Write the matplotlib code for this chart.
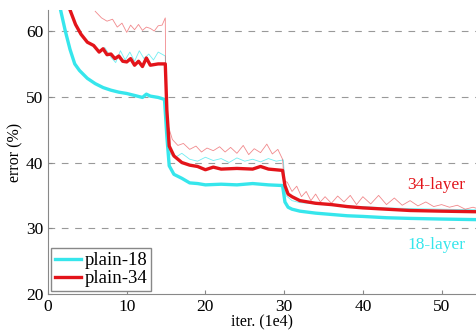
import matplotlib
matplotlib.use("Agg")
import matplotlib.pyplot as plt

plt.rcParams['font.family'] = ['Liberation Serif', 'DejaVu Serif']

CYAN = '#36e6ec'
RED = '#e3141a'

# thick curves (validation error)
val18_x = [1.6, 2.2, 2.8, 3.4, 4.0, 5.0, 6.0, 7.0, 8.0, 9.0, 10.0, 11.0, 12.0, 12.5, 13.0, 14.0, 14.8, 15.1, 15.4,
           16.0, 17.0, 18.0, 19.0, 20.0, 22.0, 24.0, 26.0, 28.0, 29.8, 30.1, 30.5, 31.0, 32.0, 34.0, 36.0, 38.0,
           40.0, 43.0, 46.0, 50.0, 55.0]
val18_y = [63.2, 60.0, 57.2, 55.0, 54.0, 52.8, 52.0, 51.4, 51.0, 50.7, 50.5, 50.2, 49.9, 50.4, 50.1, 49.9, 49.6, 44.0,
           39.5, 38.2, 37.6, 36.9, 36.8, 36.6, 36.7, 36.6, 36.8, 36.6, 36.5, 34.0, 33.2, 32.9, 32.6, 32.3, 32.1, 31.9,
           31.8, 31.6, 31.5, 31.4, 31.3]

val34_x = [2.8, 3.5, 4.2, 5.0, 5.8, 6.5, 7.0, 7.5, 8.0, 8.5, 9.0, 9.5, 10.0, 10.5, 11.0, 11.5, 12.0, 12.5, 13.0,
           14.0, 14.9, 15.1, 15.4, 16.0, 17.0, 18.0, 19.0, 20.0, 21.0, 22.0, 24.0, 26.0, 27.0, 28.0, 29.8, 30.1,
           30.5, 31.0, 32.0, 34.0, 36.0, 38.0, 40.0, 43.0, 46.0, 50.0, 55.0]
val34_y = [63.2, 61.0, 59.5, 58.3, 57.8, 56.8, 57.3, 56.4, 56.5, 55.8, 56.2, 55.4, 55.3, 55.8, 54.8, 55.4, 54.6, 55.9,
           54.8, 55.0, 55.0, 48.0, 42.5, 41.0, 40.0, 39.6, 39.4, 38.9, 39.3, 39.0, 39.1, 39.0, 39.4, 39.0, 38.8, 36.5,
           35.2, 34.8, 34.2, 33.8, 33.6, 33.3, 33.1, 32.9, 32.7, 32.6, 32.5]

# thin curves (training error)
tr18_x = [7.2, 8.0, 8.6, 9.2, 9.8, 10.4, 11.0, 11.6, 12.2, 12.8, 13.4, 14.0, 14.9, 15.1, 15.6, 16.2, 17.0, 18.0,
          19.0, 20.0, 21.0, 22.0, 23.0, 24.0, 25.0, 26.0, 27.0, 28.0, 29.0, 29.9, 30.2, 31.0, 32.0, 34.0, 36.0,
          38.0, 40.0, 43.0, 46.0, 50.0, 55.0]
tr18_y = [57.5, 56.0, 55.2, 57.0, 55.6, 56.8, 55.4, 57.0, 55.8, 56.5, 55.6, 56.8, 56.2, 44.0, 41.2, 40.8, 41.4, 40.5,
          40.2, 40.8, 40.3, 40.6, 40.0, 40.7, 40.2, 40.5, 40.1, 40.6, 40.2, 40.4, 35.0, 34.2, 33.9, 33.7, 33.5,
          33.4, 33.3, 33.1, 33.0, 32.9, 32.8]

tr34_x = [6.0, 6.8, 7.5, 8.2, 8.8, 9.4, 10.0, 10.5, 11.0, 11.5, 12.0, 12.5, 13.0, 13.5, 14.0, 14.5, 14.9, 15.0,
          15.3, 15.8, 16.5, 17.2, 18.0, 18.8, 19.5, 20.2, 21.0, 21.8, 22.5, 23.2, 24.0, 24.8, 25.5, 26.2, 27.0,
          27.8, 28.5, 29.2, 29.8, 30.0, 30.4, 31.0, 31.6, 32.2, 32.8, 33.4, 34.0, 34.6, 35.2, 36.0, 36.8, 37.6,
          38.4, 39.2, 40.0, 41.0, 42.0, 43.0, 44.0, 45.0, 46.0, 47.0, 48.0, 49.0, 50.0, 51.0, 52.0, 53.0, 54.0,
          55.0]
tr34_y = [63.0, 62.0, 61.5, 61.8, 60.6, 61.2, 59.8, 60.9, 60.2, 61.0, 60.1, 60.6, 60.4, 60.0, 60.8, 60.9, 62.0, 46.0,
          45.5, 43.5, 42.6, 42.9, 42.0, 42.5, 41.6, 42.2, 41.8, 42.4, 41.6, 42.3, 41.4, 42.6, 41.2, 42.1, 41.5,
          42.8, 41.3, 42.0, 40.5, 37.2, 37.0, 35.6, 36.4, 34.8, 35.6, 34.2, 35.2, 34.0, 34.8, 33.8, 34.9, 34.0,
          35.0, 33.6, 34.8, 33.7, 35.0, 33.6, 34.6, 33.5, 34.2, 33.4, 34.0, 33.3, 33.6, 33.2, 33.5, 32.9, 33.2,
          32.8]

fig = plt.figure(figsize=(4.77, 3.31), dpi=100)
ax = fig.add_axes([0.1006, 0.1118, 0.8994, 0.858])

ax.plot(tr18_x, tr18_y, color=CYAN, lw=0.6, alpha=0.7)
ax.plot(tr34_x, tr34_y, color=RED, lw=0.6, alpha=0.5)
ax.plot(val18_x, val18_y, color=CYAN, lw=2.4, label='plain-18')
ax.plot(val34_x, val34_y, color=RED, lw=2.4, label='plain-34')

ax.set_xlim(0, 54.5)
ax.set_ylim(20, 63.2)
ax.set_xticks([0, 10, 20, 30, 40, 50])
ax.set_yticks([20, 30, 40, 50, 60])
for y in [30, 40, 50, 60]:
    ax.axhline(y, color='#999999', lw=0.8, ls=(0, (6, 6)), zorder=0)

ax.tick_params(direction='in', labelsize=12.5, length=3, color='#888888')
for s in ['top', 'right']:
    ax.spines[s].set_visible(False)
for s in ['left', 'bottom']:
    ax.spines[s].set_color('#888888')

ax.set_xlabel('iter. (1e4)', fontsize=11.5, labelpad=0)
ax.set_ylabel('error (%)', fontsize=11.5, labelpad=2)

ax.text(49.3, 36.6, '34-layer', color=RED, fontsize=12.5, ha='center', va='center')
ax.text(49.3, 27.4, '18-layer', color=CYAN, fontsize=12.5, ha='center', va='center')

leg = ax.legend(loc='lower left', fontsize=13.5, handlelength=1.4, handletextpad=0.2,
                borderpad=0.2, labelspacing=0.05, fancybox=False, framealpha=1,
                borderaxespad=0.15)
leg.get_frame().set_edgecolor('#888888')

fig.savefig('out.png', dpi=100)
